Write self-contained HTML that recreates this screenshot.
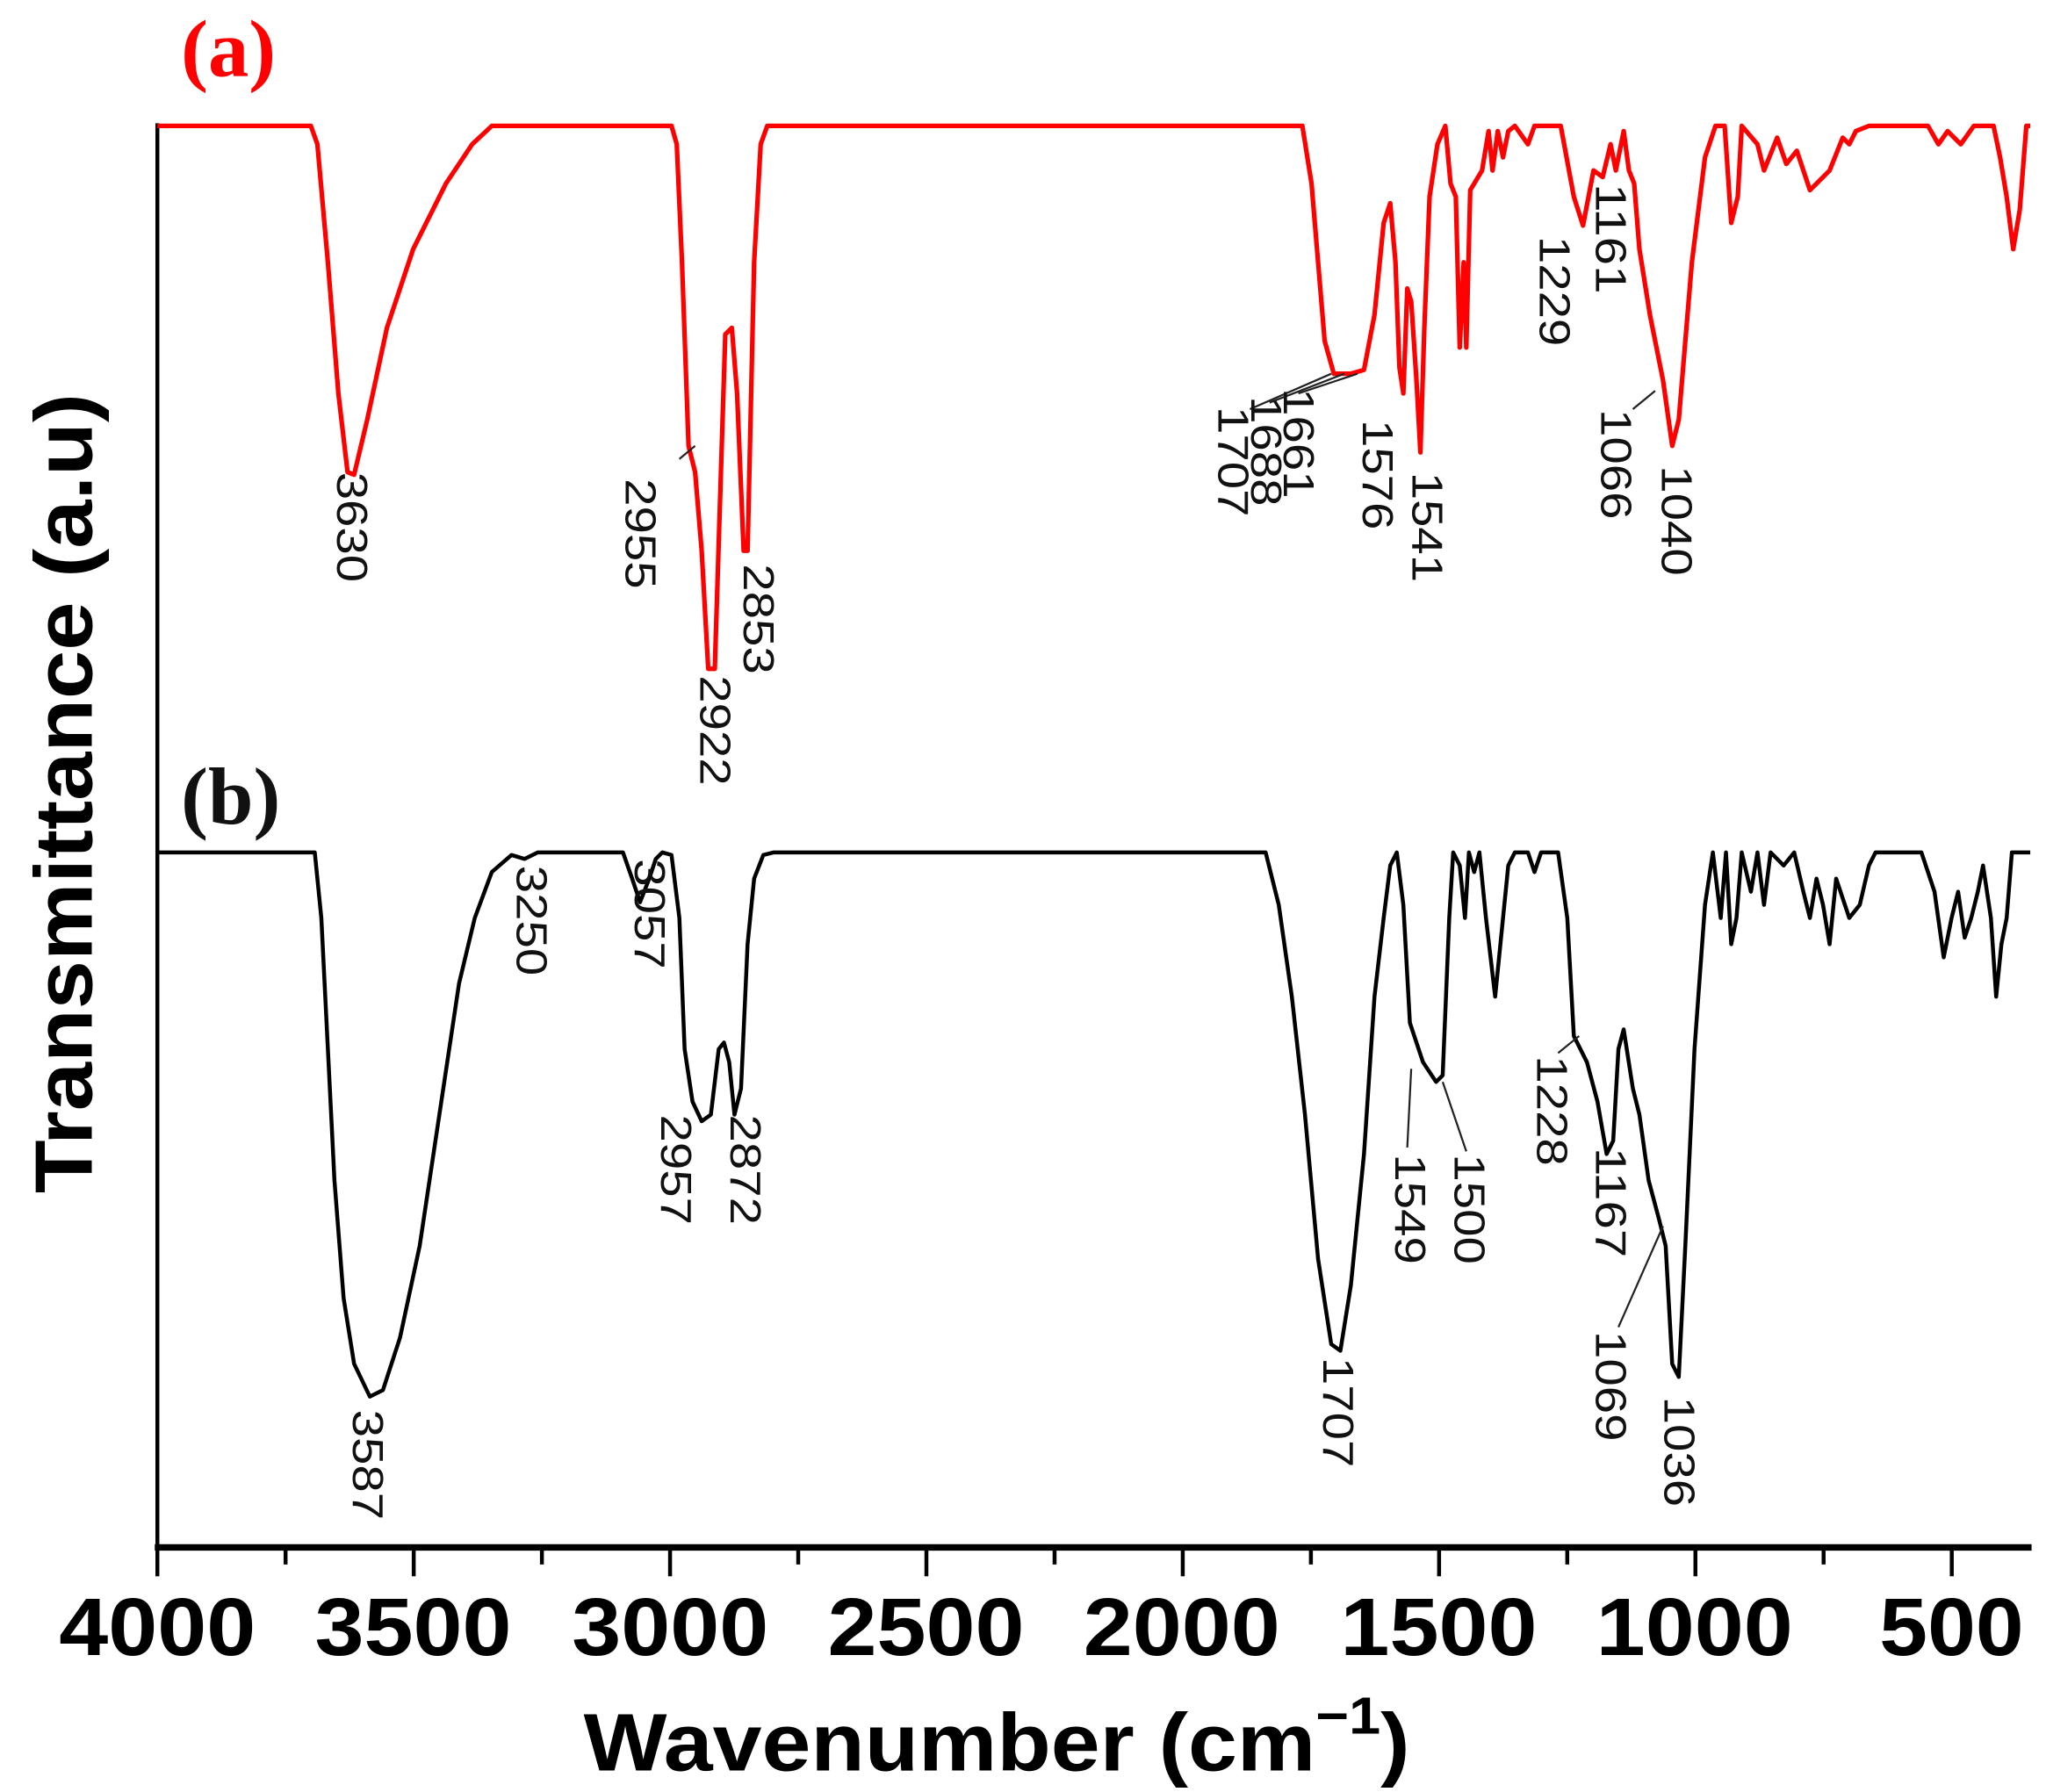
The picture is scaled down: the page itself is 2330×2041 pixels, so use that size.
<!DOCTYPE html>
<html><head><meta charset="utf-8"><style>
html,body{margin:0;padding:0;background:#fff}
svg{display:block}
.lb{font-family:"Liberation Sans",sans-serif;font-size:33px;fill:#111}
</style></head><body>
<svg id="s" width="2330" height="2041" viewBox="0 0 1560 1366.5" preserveAspectRatio="none" xmlns="http://www.w3.org/2000/svg">
<rect width="1560" height="1366.5" fill="#fff"/>
<line x1="120" y1="94" x2="120" y2="1181" stroke="#000" stroke-width="3"/>
<line x1="118" y1="1180" x2="1549" y2="1180" stroke="#000" stroke-width="5"/>
<g id="ticks" stroke="#000" stroke-width="3"></g>
<g font-family="Liberation Sans,sans-serif" font-weight="bold" font-size="62" text-anchor="middle">
<text x="120" y="1262" textLength="150" lengthAdjust="spacingAndGlyphs">4000</text>
<text x="315" y="1262" textLength="150" lengthAdjust="spacingAndGlyphs">3500</text>
<text x="511" y="1262" textLength="150" lengthAdjust="spacingAndGlyphs">3000</text>
<text x="706" y="1262" textLength="150" lengthAdjust="spacingAndGlyphs">2500</text>
<text x="901" y="1262" textLength="150" lengthAdjust="spacingAndGlyphs">2000</text>
<text x="1097" y="1262" textLength="150" lengthAdjust="spacingAndGlyphs">1500</text>
<text x="1292" y="1262" textLength="150" lengthAdjust="spacingAndGlyphs">1000</text>
<text x="1488" y="1262" textLength="110" lengthAdjust="spacingAndGlyphs">500</text>
<text x="760" y="1350" textLength="630" lengthAdjust="spacingAndGlyphs">Wavenumber (cm<tspan dy="-28" font-size="40">−1</tspan><tspan dy="28">)</tspan></text>
<text transform="translate(70,605) rotate(-90)" textLength="610" lengthAdjust="spacingAndGlyphs">Transmittance (a.u)</text>
</g>
<text x="138" y="58" font-family="Liberation Serif,serif" font-weight="bold" font-size="62" fill="#f00">(a)</text>
<text x="138" y="628" font-family="Liberation Serif,serif" font-weight="bold" font-size="62" fill="#111">(b)</text>
<path id="red" fill="none" stroke="#f00" stroke-width="3.5" stroke-linejoin="round"/>
<path id="blk" fill="none" stroke="#000" stroke-width="3" stroke-linejoin="round"/>
<g stroke="#222" stroke-width="1.5">
<line x1="518" y1="350" x2="530" y2="340"/>
<line x1="953" y1="312" x2="1015" y2="285"/>
<line x1="968" y1="307" x2="1025" y2="285"/>
<line x1="990" y1="300" x2="1035" y2="285"/>
<line x1="1245" y1="312" x2="1262" y2="298"/>
<line x1="1073" y1="875" x2="1076" y2="815"/>
<line x1="1118" y1="878" x2="1100" y2="825"/>
<line x1="1188" y1="803" x2="1204" y2="790"/>
<line x1="1234" y1="1012" x2="1268" y2="935"/>
</g>
<g class="lb" id="labels"></g>
</svg>
<script>
var X=function(w){return 120+(4000-w)*0.3909;};
var t=document.getElementById('ticks'),h='';
for(var w=4000;w>=400;w-=250){var x=X(w),maj=(w%500==0);h+='<line x1="'+x+'" y1="1180" x2="'+x+'" y2="'+(maj?1202:1193)+'"/>';}
t.innerHTML=h;
var R=[120,96,237,96,242,110,250,200,258,300,265,360,270,362,280,320,295,250,315,190,340,140,360,110,375,96,512,96,516,110,520,200,525,340,530,360,535,420,540,510,545,510,550,350,553,255,558,250,562,300,567,420,570,420,575,200,580,110,585,96,993,96,1000,140,1005,200,1010,260,1017,285,1030,285,1040,282,1048,240,1055,170,1060,155,1064,200,1067,280,1070,300,1073,220,1076,230,1080,290,1083,345,1086,250,1090,150,1096,110,1102,96,1106,140,1110,150,1113,265,1116,200,1118,265,1121,145,1130,130,1135,100,1138,130,1142,100,1146,120,1150,100,1155,96,1165,110,1170,96,1190,96,1200,150,1207,172,1215,130,1222,135,1228,110,1232,130,1238,100,1242,130,1246,140,1250,190,1258,240,1268,290,1275,340,1280,320,1290,200,1300,120,1308,96,1315,96,1320,170,1325,150,1328,96,1340,110,1345,130,1355,105,1362,125,1370,115,1380,145,1395,130,1405,105,1410,110,1415,100,1425,96,1470,96,1478,110,1485,100,1495,110,1505,96,1520,96,1525,120,1530,150,1535,190,1540,160,1545,96,1548,96];
var B=[120,650,240,650,245,700,250,800,255,900,262,990,270,1040,282,1065,292,1060,305,1020,320,950,335,850,350,750,362,700,375,665,390,652,400,655,410,650,475,650,482,670,488,688,495,670,500,655,505,650,512,652,518,700,522,800,528,840,535,855,542,850,548,800,552,795,556,810,560,850,565,830,570,720,575,670,582,652,590,650,965,650,975,690,985,760,995,850,1005,960,1015,1025,1022,1030,1030,980,1040,880,1048,760,1055,700,1060,660,1065,650,1070,690,1075,780,1085,810,1095,825,1100,820,1105,700,1108,650,1113,660,1117,700,1120,650,1124,665,1128,650,1133,700,1140,760,1146,700,1150,660,1155,650,1165,650,1170,665,1175,650,1188,650,1195,700,1200,790,1210,810,1218,840,1225,880,1230,870,1234,800,1238,785,1245,830,1250,850,1257,900,1265,930,1270,950,1275,1040,1280,1050,1285,950,1292,800,1300,690,1306,650,1312,700,1316,650,1320,720,1324,700,1328,650,1335,680,1340,650,1345,690,1350,650,1360,660,1368,650,1375,680,1380,700,1385,670,1390,690,1395,720,1400,670,1410,700,1418,690,1425,660,1430,650,1465,650,1475,680,1482,730,1488,700,1493,680,1498,715,1503,700,1508,680,1512,660,1518,700,1522,760,1526,720,1530,700,1534,650,1548,650];
function P(a){var s='M'+a[0]+' '+a[1];for(var i=2;i<a.length;i+=2)s+=' L'+a[i]+' '+a[i+1];return s;}
document.getElementById('red').setAttribute('d',P(R));
document.getElementById('blk').setAttribute('d',P(B));
</script>
<script>
var L=[["3630",268,360],["2955",488,365],["2922",545,515],["2853",578,430],["1707",940,310],["1688",965,302],["1661",990,296],["1576",1050,320],["1541",1088,360],["1066",1232,312],["1040",1278,355],["1229",1185,180],["1161",1228,140],
["3587",280,1075],["3250",405,660],["3057",495,655],["2957",515,850],["2872",568,850],["1707",1020,1035],["1549",1075,880],["1500",1120,880],["1228",1183,805],["1167",1228,875],["1069",1228,1015],["1036",1280,1065]];
var g=document.getElementById('labels'),s='';
L.forEach(function(l){s+='<text transform="translate('+(l[1]-11)+','+l[2]+') rotate(90)" textLength="84" lengthAdjust="spacingAndGlyphs">'+l[0]+'</text>';});
g.innerHTML=s;
</script>
</body></html>
